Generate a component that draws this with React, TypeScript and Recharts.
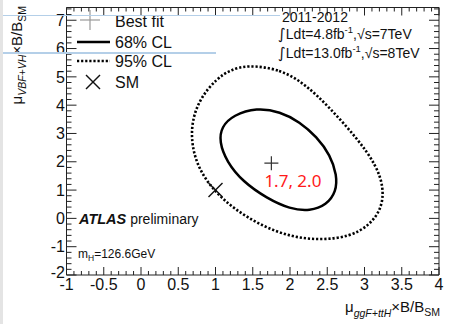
import React from 'react';
import { ScatterChart, Scatter, XAxis, YAxis } from 'recharts';

const xMajorTicks = [-1, -0.5, 0, 0.5, 1, 1.5, 2, 2.5, 3, 3.5, 4];
const yMajorTicks = [-2, -1, 0, 1, 2, 3, 4, 5, 6, 7];
const xDomain: [number, number] = [-1, 4];
const yDomain: [number, number] = [-2, 7.45];

// 68% CL contour (x = mu ggF+ttH, y = mu VBF+VH)
const contour68 = [
  { x: 1.24, y: 3.65 },
  { x: 1.55, y: 3.91 },
  { x: 1.87, y: 3.77 },
  { x: 2.13, y: 3.41 },
  { x: 2.36, y: 2.88 },
  { x: 2.54, y: 2.24 },
  { x: 2.63, y: 1.53 },
  { x: 2.62, y: 0.94 },
  { x: 2.49, y: 0.47 },
  { x: 2.27, y: 0.26 },
  { x: 2.0, y: 0.33 },
  { x: 1.69, y: 0.71 },
  { x: 1.37, y: 1.29 },
  { x: 1.15, y: 2.0 },
  { x: 1.05, y: 2.71 },
  { x: 1.08, y: 3.24 },
];

// 95% CL contour
const contour95 = [
  { x: 1.42, y: 5.42 },
  { x: 1.87, y: 5.28 },
  { x: 2.22, y: 4.71 },
  { x: 2.54, y: 3.89 },
  { x: 2.9, y: 2.83 },
  { x: 3.16, y: 1.88 },
  { x: 3.26, y: 1.06 },
  { x: 3.23, y: 0.35 },
  { x: 3.07, y: -0.24 },
  { x: 2.8, y: -0.65 },
  { x: 2.4, y: -0.77 },
  { x: 2.0, y: -0.65 },
  { x: 1.6, y: -0.24 },
  { x: 1.24, y: 0.35 },
  { x: 0.97, y: 1.0 },
  { x: 0.77, y: 1.77 },
  { x: 0.68, y: 2.59 },
  { x: 0.68, y: 3.41 },
  { x: 0.79, y: 4.24 },
  { x: 1.02, y: 4.95 },
  { x: 1.2, y: 5.24 },
];

const bestFit = [{ x: 1.75, y: 1.95 }];
const smPoint = [{ x: 1, y: 1 }];
const bestFitLabel = '1.7, 2.0';

const font = '"Liberation Sans", Arial, Helvetica, sans-serif';

const withMinor = (majors: number[], sub: number, max: number) => {
  const step = (majors[1] - majors[0]) / sub;
  const out: number[] = [];
  for (let v = majors[0]; v <= max + 1e-9; v += step) out.push(Math.round(v * 1000) / 1000);
  return out;
};
const xTicks = withMinor(xMajorTicks, 5, xDomain[1]);
const yTicks = withMinor(yMajorTicks, 5, yDomain[1]);
const isMajor = (v: number, majors: number[]) => majors.some((m) => Math.abs(m - v) < 1e-6);

const BottomTick = (props: any) => {
  const { x, y, payload } = props;
  const major = isMajor(payload.value, xMajorTicks);
  return (
    <g>
      <line x1={x} x2={x} y1={y} y2={y - (major ? 8 : 4)} stroke="#222" strokeWidth={1} />
      {major && (
        <text x={x} y={y + 15} textAnchor="middle" fontSize={16} fontFamily={font} fill="#111">
          {payload.value}
        </text>
      )}
    </g>
  );
};

const TopTick = (props: any) => {
  const { x, y, payload } = props;
  const major = isMajor(payload.value, xMajorTicks);
  return <line x1={x} x2={x} y1={y} y2={y + (major ? 8 : 4)} stroke="#222" strokeWidth={1} />;
};

const LeftTick = (props: any) => {
  const { x, y, payload } = props;
  const major = isMajor(payload.value, yMajorTicks);
  // the bottom label sits a little higher, clear of the x-axis "-1"
  const dy = payload.value === yDomain[0] ? 2.5 : 5.7;
  return (
    <g>
      <line x1={x} x2={x + (major ? 10 : 5)} y1={y} y2={y} stroke="#222" strokeWidth={1} />
      {major && (
        <text x={x - 1.5} y={y + dy} textAnchor="end" fontSize={16} fontFamily={font} fill="#111">
          {payload.value}
        </text>
      )}
    </g>
  );
};

const RightTick = (props: any) => {
  const { x, y, payload } = props;
  const major = isMajor(payload.value, yMajorTicks);
  return <line x1={x} x2={x - (major ? 10 : 5)} y1={y} y2={y} stroke="#222" strokeWidth={1} />;
};

const BestFitShape = (props: any) => {
  const { cx, cy } = props;
  return (
    <g>
      <line x1={cx - 7} x2={cx + 7} y1={cy} y2={cy} stroke="#333" strokeWidth={1.2} />
      <line x1={cx} x2={cx} y1={cy - 7} y2={cy + 7} stroke="#333" strokeWidth={1.2} />
      <text x={cx - 7} y={cy + 24} fontSize={17} fontFamily='"Noto Sans", sans-serif' fill="#ff1a1a">
        {bestFitLabel}
      </text>
    </g>
  );
};

const SmShape = (props: any) => {
  const { cx, cy } = props;
  return (
    <g stroke="#111" strokeWidth={1.4}>
      <line x1={cx - 7} x2={cx + 7} y1={cy - 7} y2={cy + 7} />
      <line x1={cx - 7} x2={cx + 7} y1={cy + 7} y2={cy - 7} />
    </g>
  );
};

const NoDot = () => <g />;

export default function App() {
  return (
    <div style={{ position: 'absolute', left: 0, top: 0, width: 451, height: 324, background: '#fff' }}>
      <ScatterChart width={451} height={324} margin={{ top: 6.5, right: 11, bottom: 48, left: 65.5 }}>
        <XAxis
          type="number"
          dataKey="x"
          domain={xDomain}
          allowDataOverflow
          ticks={xTicks}
          interval={0}
          height={1}
          tickSize={0}
          tickMargin={0}
          tickLine={false}
          tick={<BottomTick />}
          axisLine={{ stroke: '#222', strokeWidth: 1 }}
        />
        <XAxis
          xAxisId="top"
          orientation="top"
          type="number"
          dataKey="x"
          domain={xDomain}
          allowDataOverflow
          ticks={xTicks}
          interval={0}
          height={1}
          tickSize={0}
          tickMargin={0}
          tickLine={false}
          tick={<TopTick />}
          axisLine={{ stroke: '#222', strokeWidth: 1 }}
        />
        <YAxis
          type="number"
          dataKey="y"
          domain={yDomain}
          allowDataOverflow
          ticks={yTicks}
          interval={0}
          width={1}
          tickSize={0}
          tickMargin={0}
          tickLine={false}
          tick={<LeftTick />}
          axisLine={{ stroke: '#222', strokeWidth: 1 }}
        />
        <YAxis
          yAxisId="right"
          orientation="right"
          type="number"
          dataKey="y"
          domain={yDomain}
          allowDataOverflow
          ticks={yTicks}
          interval={0}
          width={1}
          tickSize={0}
          tickMargin={0}
          tickLine={false}
          tick={<RightTick />}
          axisLine={{ stroke: '#222', strokeWidth: 1 }}
        />
        <Scatter
          data={contour95}
          shape={NoDot}
          line={{ stroke: '#000', strokeWidth: 2.6, strokeDasharray: '2.2 1.9', fill: 'none' }}
          lineJointType="basisClosed"
          isAnimationActive={false}
        />
        <Scatter
          data={contour68}
          shape={NoDot}
          line={{ stroke: '#000', strokeWidth: 2.5, fill: 'none' }}
          lineJointType="basisClosed"
          isAnimationActive={false}
        />
        <Scatter data={smPoint} shape={SmShape} isAnimationActive={false} />
        <Scatter data={bestFit} shape={BestFitShape} isAnimationActive={false} />
      </ScatterChart>

      <svg width={451} height={324} style={{ position: 'absolute', left: 0, top: 0, pointerEvents: 'none' }}>
        <g fontFamily={font} fill="#111">
          {/* legend */}
          <line x1={80} x2={100} y1={20} y2={20} stroke="#999" strokeWidth={1.2} />
          <line x1={90} x2={90} y1={10} y2={30} stroke="#999" strokeWidth={1.2} />
          <text x={115} y={27} fontSize={16}>Best fit</text>
          <line x1={77} x2={110} y1={42} y2={42} stroke="#000" strokeWidth={2.3} />
          <text x={115} y={47.5} fontSize={16}>68% CL</text>
          <line x1={77} x2={110} y1={61} y2={61} stroke="#000" strokeWidth={2.6} strokeDasharray="2.2 1.9" />
          <text x={115} y={67} fontSize={16}>95% CL</text>
          <line x1={86} x2={100} y1={75} y2={89} stroke="#111" strokeWidth={1.4} />
          <line x1={86} x2={100} y1={89} y2={75} stroke="#111" strokeWidth={1.4} />
          <text x={115} y={88} fontSize={16}>SM</text>

          {/* luminosity block */}
          <text x={282} y={21.5} fontSize={14}>2011-2012</text>
          <text x={278} y={39} fontSize={14}>
            <tspan fontSize={15} fontFamily='"DejaVu Sans", sans-serif'>∫</tspan>
            <tspan>Ldt=4.8fb</tspan>
            <tspan fontSize={9.5} dy={-6}>-1</tspan>
            <tspan dy={6}>,√s=7TeV</tspan>
          </text>
          <text x={278} y={58} fontSize={14}>
            <tspan fontSize={15} fontFamily='"DejaVu Sans", sans-serif'>∫</tspan>
            <tspan>Ldt=13.0fb</tspan>
            <tspan fontSize={9.5} dy={-6}>-1</tspan>
            <tspan dy={6}>,√s=8TeV</tspan>
          </text>

          {/* ATLAS label */}
          <text x={79} y={223.5} fontSize={14}>
            <tspan fontWeight="bold" fontStyle="italic" fontSize={14.5}>ATLAS</tspan>
            <tspan> preliminary</tspan>
          </text>
          <text x={78} y={258} fontSize={12}>
            <tspan>m</tspan>
            <tspan fontSize={8.5} dy={3}>H</tspan>
            <tspan dy={-3}>=126.6GeV</tspan>
          </text>

          {/* axis titles */}
          <text x={440} y={312} fontSize={15} textAnchor="end">
            <tspan>μ</tspan>
            <tspan fontSize={10.5} fontStyle="italic" dy={5}>ggF+ttH</tspan>
            <tspan dy={-5}>×B/B</tspan>
            <tspan fontSize={10.5} dy={4}>SM</tspan>
          </text>
          <text transform="rotate(-90)" x={-6} y={22} fontSize={15} textAnchor="end">
            <tspan>μ</tspan>
            <tspan fontSize={10.5} fontStyle="italic" dy={4}>VBF+VH</tspan>
            <tspan dy={-4}>×B/B</tspan>
            <tspan fontSize={10.5} dy={4}>SM</tspan>
          </text>
        </g>
      </svg>

      {/* screenshot artefacts */}
      <div style={{ position: 'absolute', left: 0, top: 14.5, width: 280, height: 1.5, background: '#b4cfe8' }} />
      <div style={{ position: 'absolute', left: 0, top: 52, width: 216, height: 1.5, background: '#b4cfe8' }} />
      <div style={{ position: 'absolute', left: 0, top: 0, width: 2.5, height: 324, background: '#e4e4e4' }} />
    </div>
  );
}
